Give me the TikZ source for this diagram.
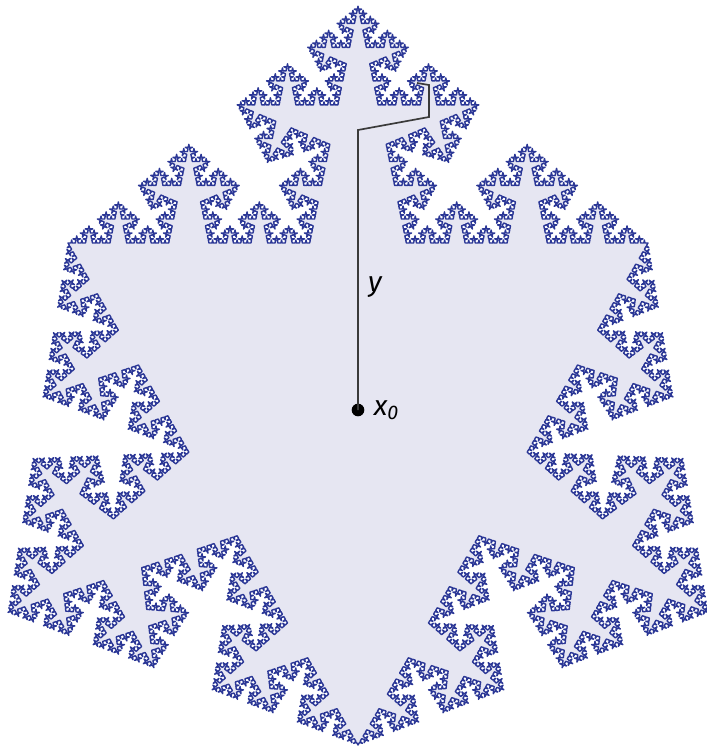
\documentclass[tikz,border=0pt]{standalone}
\usepackage{fontspec}
\setmainfont{Fira Sans}
\usepackage{xcolor}
\usepackage{tikz}
\usetikzlibrary{positioning}
\definecolor{flake}{HTML}{2B3796}
\definecolor{inside}{HTML}{E6E6F2}
\definecolor{walk}{HTML}{3A3A3A}

% one side of the Koch type curve (pieces 5/12, bump angle acos 0.2):
% level, start x/y, end x/y  (y grows downwards here)
\newcommand\kochseg[5]{%
  \ifnum#1=0
    \pgfpathlineto{\pgfpointxy{#4}{#5}}%
  \else
    \pgfmathsetmacro\kdx{0.416667*(#4-(#2))}%
    \pgfmathsetmacro\kdy{0.416667*(#5-(#3))}%
    \pgfmathsetmacro\kax{#2+\kdx}%
    \pgfmathsetmacro\kay{#3+\kdy}%
    \pgfmathsetmacro\kbx{\kax+0.2*\kdx+0.979796*\kdy}%
    \pgfmathsetmacro\kby{\kay-0.979796*\kdx+0.2*\kdy}%
    \pgfmathsetmacro\kcx{#4-\kdx}%
    \pgfmathsetmacro\kcy{#5-\kdy}%
    \edef\knext{%
      \noexpand\kochseg{\the\numexpr#1-1\relax}{#2}{#3}{\kax}{\kay}%
      \noexpand\kochseg{\the\numexpr#1-1\relax}{\kax}{\kay}{\kbx}{\kby}%
      \noexpand\kochseg{\the\numexpr#1-1\relax}{\kbx}{\kby}{\kcx}{\kcy}%
      \noexpand\kochseg{\the\numexpr#1-1\relax}{\kcx}{\kcy}{#4}{#5}}%
    \expandafter\knext
  \fi}
\newcommand\kochorder{6}

\begin{document}
\begin{tikzpicture}[
    x=0.0125cm,y=-0.0125cm,
    dot/.style={circle,fill=black,inner sep=0pt,minimum size=4.5pt},
    walkline/.style={draw=walk,line width=0.6pt},
    lbl/.style={font=\itshape,inner sep=1pt}
  ]
    \useasboundingbox (0,0) rectangle (706,752);

    % snowflake on the triangle (68,243) (648,243) (358,745)
    \begin{scope}
      \pgfsetlinewidth{0.5pt}
      \pgfsetroundjoin
      \pgfsetfillcolor{inside}
      \pgfsetstrokecolor{flake}
      \pgfpathmoveto{\pgfpointxy{68}{243}}
      \kochseg{\kochorder}{68}{243}{648}{243}
      \kochseg{\kochorder}{648}{243}{358}{745}
      \kochseg{\kochorder}{358}{745}{68}{243}
      \pgfpathclose
      \pgfusepath{fill,stroke}
    \end{scope}

    \node[dot] (x0) at (358,410) {};
    \node[lbl,right=2pt of x0] (x0l) {x\textsubscript{0}};

    \coordinate (b1) at (358,130);
    \coordinate (b2) at (429,117);
    \coordinate (b3) at (429,85);
    \coordinate (yend) at (417,83);
    \draw[walkline] (x0.center) -- (b1) -- (b2) -- (b3) -- (yend);
    \node[lbl] (ylbl) at (375,287) {y};
\end{tikzpicture}
\end{document}
